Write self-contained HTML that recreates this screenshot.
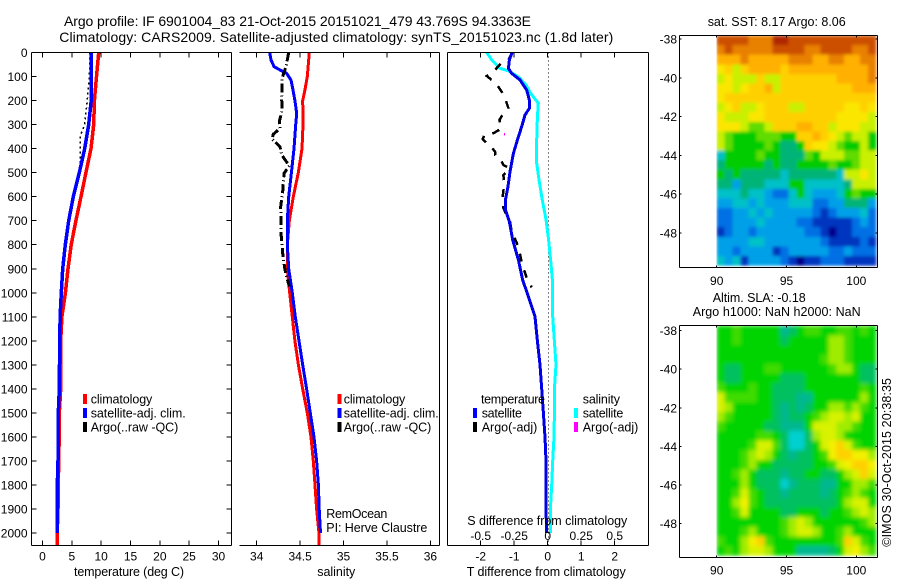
<!DOCTYPE html>
<html>
<head>
<meta charset="utf-8">
<title>Argo profile</title>
<style>
html,body{margin:0;padding:0;background:#fff;width:900px;height:580px;overflow:hidden}
svg{display:block}
text{font-family:"Liberation Sans",sans-serif;font-size:12.5px;fill:#000}
.tick{font-size:12px}
.title{font-size:14px}
</style>
</head>
<body>
<svg id="chart" xmlns="http://www.w3.org/2000/svg" width="900" height="580" viewBox="0 0 900 580">
<defs>
<filter id="sla-blur" x="0" y="0" width="1" height="1"><feGaussianBlur stdDeviation="2.2" edgeMode="duplicate"/></filter>
<filter id="sst-blur" x="0" y="0" width="1" height="1"><feGaussianBlur stdDeviation="1.5" edgeMode="duplicate"/></filter>
</defs>
<text class="title" x="64" y="26" textLength="467">Argo profile: IF 6901004_83 21-Oct-2015 20151021_479 43.769S 94.3363E</text>
<text class="title" x="59.3" y="42" textLength="554">Climatology: CARS2009. Satellite-adjusted climatology: synTS_20151023.nc (1.8d later)</text>

<g id="maps"></g>
<g id="series"></g>
<g id="axes" shape-rendering="crispEdges"></g>
<g id="ticklabels"></g>

<text x="74" y="576" textLength="110">temperature (deg C)</text>
<text x="317.3" y="576" textLength="38">salinity</text>
<text x="466.7" y="576" textLength="159">T difference from climatology</text>
<text x="467.3" y="525" textLength="160">S difference from climatology</text>

<g>
<rect x="83" y="394" width="4" height="10" fill="#ff0000"/>
<text x="90.7" y="403.5" textLength="61.6">climatology</text>
<rect x="83" y="408" width="4" height="10" fill="#0000ff"/>
<text x="90.7" y="417.5" textLength="95">satellite-adj. clim.</text>
<rect x="83" y="422" width="4" height="10" fill="#000"/>
<text x="90.7" y="431.5" textLength="87.6">Argo(..raw -QC)</text>
</g>
<g>
<rect x="337.5" y="394" width="4" height="10" fill="#ff0000"/>
<text x="343.7" y="403.5" textLength="61.6">climatology</text>
<rect x="337.5" y="408" width="4" height="10" fill="#0000ff"/>
<text x="343.7" y="417.5" textLength="95">satellite-adj. clim.</text>
<rect x="337.5" y="422" width="4" height="10" fill="#000"/>
<text x="343.7" y="431.5" textLength="87.6">Argo(..raw -QC)</text>
</g>
<text x="326.3" y="518" textLength="61">RemOcean</text>
<text x="326.3" y="532" textLength="101">PI: Herve Claustre</text>

<g>
<text x="481" y="403.5" textLength="64">temperature</text>
<rect x="473" y="408" width="4" height="10" fill="#0000ff"/>
<text x="481.7" y="417.5" textLength="40.3">satellite</text>
<rect x="473" y="422" width="4" height="10" fill="#000"/>
<text x="481.7" y="431.5" textLength="55.6">Argo(-adj)</text>
<text x="582.7" y="403.5" textLength="37.3">salinity</text>
<rect x="574" y="408" width="4" height="10" fill="#00ffff"/>
<text x="582.7" y="417.5" textLength="40.6">satellite</text>
<rect x="574" y="422" width="4" height="10" fill="#ff00ff"/>
<text x="582.7" y="431.5" textLength="55.6">Argo(-adj)</text>
</g>

<text x="707.7" y="26" textLength="138">sat. SST: 8.17 Argo: 8.06</text>
<text x="712.7" y="302" textLength="93">Altim. SLA: -0.18</text>
<text x="692.7" y="316" textLength="168">Argo h1000: NaN h2000: NaN</text>
<text transform="rotate(-90 891 546.7)" x="891" y="546.7" textLength="168.7">©IMOS 30-Oct-2015 20:38:35</text>
</svg>

<script>
// ---------- tick labels ----------
var depthTicks = [0,100,200,300,400,500,600,700,800,900,1000,1100,1200,1300,1400,1500,1600,1700,1800,1900,2000];
var tempTicks = [0,5,10,15,20,25,30];
var salTicks = [34,34.5,35,35.5,36];
var salTickLabels = ['34','34.5','35','35.5','36'];
var tDiffTicks = [-2,-1,0,1,2];
var sDiffTicks = [-0.5,-0.25,0,0.25,0.5];
var lonTicks = [90,95,100];
var latTicks = [-38,-40,-42,-44,-46,-48];

// ---------- temperature panel ----------
var tempClimDepths = [0,100,200,300,400,500,600,700,800,900,1000,1100,1200,1300,1400,1500,1600,1700,1800,1900,2000,2052];
var tempClimValues = [9.58,9.2,8.85,8.72,8.27,7.4,6.56,5.7,4.9,4.35,3.9,3.3,3.1,3.1,3.1,2.87,2.85,2.76,2.7,2.65,2.5,2.5];
var tempSatDepths = [0,100,200,300,400,500,600,700,800,900,1000,1100,1200,1300,1400,1500,1600,1700,1800,1900,2000];
var tempSatValues = [8.32,8.3,8.3,7.87,7.2,6.28,5.25,4.46,3.89,3.44,3.2,3.0,2.95,2.9,2.87,2.7,2.7,2.64,2.53,2.5,2.5];
var tempArgoDepths = [0,100,200,300,350,400,450,500,550,600,700,800,900,950];
var tempArgoValues = [8.1,8.0,7.64,7.2,6.4,6.4,6.5,6.17,5.7,5.2,4.4,3.85,3.4,3.3];

// ---------- salinity panel ----------
var salClimDepths = [0,100,155,200,300,400,500,600,700,800,900,1000,1050,1100,1200,1300,1400,1500,1600,1700,1800,1900,2000,2052];
var salClimValues = [34.606,34.583,34.556,34.53,34.533,34.522,34.479,34.421,34.375,34.352,34.352,34.38,34.395,34.41,34.44,34.48,34.53,34.583,34.625,34.652,34.671,34.69,34.717,34.72];
var salSatDepths = [0,31,59,73,87,115,156,200,253,300,400,500,600,700,800,900,1000,1100,1200,1300,1400,1500,1600,1700,1800,1900,2000];
var salSatValues = [34.15,34.165,34.2,34.268,34.345,34.395,34.418,34.44,34.46,34.449,34.43,34.4,34.368,34.352,34.352,34.368,34.41,34.445,34.487,34.53,34.575,34.617,34.66,34.69,34.71,34.72,34.735];
var salArgoDepths = [0,59,107,198,239,288,316,340,360,392,426,472,503,579,641,752,836,905,974];
var salArgoValues = [34.368,34.337,34.291,34.288,34.295,34.26,34.268,34.191,34.176,34.268,34.288,34.375,34.314,34.299,34.276,34.28,34.299,34.326,34.375];

// ---------- difference panel ----------
var dTSatDepths = [0,31,66,87,114,156,198,232,260,308,364,420,496,558,614,655,704,780,863,947,1016,1099,1200,1300,1400,1500,1600,1700,1800,1900,2000];
var dTSatValues = [-1.065,-1.144,-1.174,-1.075,-0.826,-0.627,-0.547,-0.547,-0.677,-0.776,-0.905,-1.025,-1.124,-1.184,-1.264,-1.264,-1.144,-1.045,-0.876,-0.746,-0.577,-0.378,-0.308,-0.229,-0.179,-0.129,-0.08,-0.05,-0.05,-0.05,-0.03];
var dSSatDepths = [0,31,66,76,101,135,170,211,267,364,461,530,614,697,780,863,947,1099,1300,1400,1500,1600,1700,1800,1900,2000];
var dSSatValues = [-0.455,-0.418,-0.356,-0.294,-0.219,-0.162,-0.127,-0.07,-0.077,-0.082,-0.082,-0.065,-0.04,-0.012,0.007,0.022,0.035,0.037,0.062,0.05,0.05,0.047,0.037,0.03,0.02,0.02];
var dTArgoDepths = [0,31,42,80,98,128,163,198,232,253,281,316,336,343,361,395,413,426,440,468,482,510,544,579,614,648,704,745,808,874,939,977];
var dTArgoValues = [-1.065,-1.174,-1.373,-1.622,-1.821,-1.542,-1.373,-1.254,-1.174,-1.323,-1.443,-1.373,-1.622,-1.891,-1.94,-1.672,-1.572,-1.572,-1.423,-1.323,-1.144,-1.323,-1.303,-1.323,-1.363,-1.323,-1.124,-1.075,-0.876,-0.776,-0.627,-0.478];
var dSArgoDepths = [335,345];
var dSArgoValues = [-0.323,-0.323];

// ---------- SST map (colour-level values, north to south) ----------
var sstLonStart = 90;
var sstLonStep = 0.571;
var sstLatStart = -37.82;
var sstLatStep = 0.494;
var sstValues = [
[13,13,13,13,12,12,12,14,14,13,13,13,13,13,13,13,13,13,13,13],
[12,13,12,12,12,12,12,13,13,13,13,12,12,13,13,13,13,12,12,13],
[11,11,11,12,11,11,11,11,11,12,12,12,11,11,12,12,11,11,12,12],
[9,10,8,10,11,11,11,11,10,11,11,11,11,11,11,11,11,11,11,12],
[8,9,8,8,8,10,8,8,10,10,10,10,10,10,10,11,11,11,11,12],
[9,9,8,9,10,10,11,8,10,10,10,10,10,10,10,10,10,11,11,11],
[9,10,10,10,10,10,10,10,10,10,10,10,10,10,10,10,10,10,10,10],
[8,9,10,8,8,9,10,10,10,8,8,10,10,10,10,10,9,9,10,9],
[9,8,8,8,9,9,10,10,10,10,10,10,10,10,10,9,9,9,9,8],
[9,9,9,8,7,7,8,10,10,10,11,11,10,10,8,9,9,9,8,8],
[8,7,6,6,6,7,7,7,6,6,10,10,11,10,9,8,7,8,8,6],
[8,7,6,6,6,6,7,6,5,5,6,10,9,9,8,7,6,6,8,6],
[4,6,6,6,6,7,6,6,5,5,5,7,6,8,8,8,7,7,8,8],
[5,6,6,6,6,6,5,6,5,5,6,6,6,6,7,6,6,7,8,8],
[6,5,6,5,5,5,5,5,4,5,5,5,5,5,5,4,8,8,9,8],
[5,5,3,5,5,5,4,4,4,6,6,4,4,4,4,4,5,8,8,8],
[4,4,4,5,4,4,3,2,2,4,6,4,3,3,3,4,6,7,6,6],
[3,3,4,4,3,4,3,3,3,4,4,4,2,2,3,3,5,5,5,3],
[2,2,3,3,4,3,4,3,3,3,3,3,2,1,2,3,3,3,4,2],
[2,2,3,3,3,4,3,3,3,3,2,2,1,1,1,1,1,2,3,2],
[1,2,3,3,2,3,3,3,3,3,3,2,2,1,0,1,1,2,2,2],
[3,3,3,3,4,4,3,3,3,3,3,3,3,2,1,1,1,1,2,1],
[3,3,2,3,3,3,3,1,2,3,3,3,3,3,2,2,3,2,2,2],
[4,3,4,1,3,3,3,3,2,1,0,1,1,2,2,2,1,1,1,1]
];

// ---------- SLA map (colour-level values, north to south) ----------
var slaLonStart = 90;
var slaLonStep = 0.571;
var slaLatStart = -37.74;
var slaLatStep = 0.497;
var slaValues = [
[3,3,4,3,3,3,3,3,1,2,3,4,4,3,3,4,4,3,4,3],
[3,3,4,3,3,3,3,3,2,3,3,3,3,3,5,5,4,3,3,3],
[3,3,3,3,3,3,3,3,3,3,3,3,3,3,5,5,4,3,3,3],
[3,3,3,3,3,3,3,3,3,3,3,3,3,4,5,5,4,3,3,3],
[3,2,2,3,3,3,4,4,3,3,3,3,3,3,4,5,5,3,2,2],
[3,2,2,3,3,3,3,3,2,2,2,3,3,3,3,3,3,3,2,2],
[4,3,3,3,4,3,3,2,2,2,2,3,3,3,3,3,3,3,4,3],
[6,4,4,4,4,3,3,2,2,2,1,1,3,3,3,3,3,3,5,3],
[6,5,3,3,3,3,3,2,1,2,1,2,3,3,5,5,4,5,4,3],
[5,4,3,3,3,3,3,2,1,2,2,3,4,5,6,6,5,6,3,3],
[4,3,3,3,3,3,2,2,1,1,1,3,6,6,6,5,5,4,3,3],
[3,3,3,3,3,4,4,3,2,0,0,2,5,6,6,5,3,3,3,3],
[3,3,3,3,4,6,6,4,2,0,0,2,3,6,7,8,6,4,3,3],
[3,3,3,4,5,6,5,3,2,1,2,2,3,4,7,8,8,7,7,5],
[3,3,3,4,5,3,3,2,2,2,2,2,3,3,4,6,7,8,8,7],
[3,3,4,5,3,2,2,2,1,2,2,3,3,2,2,3,5,6,8,6],
[3,3,3,5,3,2,2,2,0,1,2,2,2,1,1,3,3,5,5,4],
[3,3,4,6,4,3,2,2,1,2,2,2,2,1,2,3,4,5,4,3],
[3,3,5,7,4,3,2,2,2,2,2,2,2,2,2,3,5,6,6,3],
[3,3,4,6,3,3,3,3,2,2,3,3,3,2,3,3,4,5,6,5],
[3,3,3,3,3,3,3,3,4,5,6,5,3,3,3,3,3,3,4,5],
[3,3,3,4,5,3,3,3,4,5,6,6,5,3,3,4,5,3,3,3],
[4,3,3,5,7,8,4,3,3,3,3,3,3,3,3,4,8,6,4,3],
[3,4,3,5,6,6,5,3,3,3,1,1,1,1,2,3,6,7,5,4]
];

// ---------- axis functions ----------
function yDepth(d){return 52.5+d*0.2403;}
function xTemp(v){return 42.5+v*5.867;}
function xSal(v){return 256.7+(v-34)*86.85;}
function xTDiff(v){return 547.7+v*33.5;}
function xSDiff(v){return 547.7+v*134;}
function xLon(v){return 716.7+(v-90)*13.96;}
function yLatTop(v){return 39+(-38-v)*19.4;}
function yLatBottom(v){return 330.7+(-38-v)*19.27;}

var SVGNS = 'http://www.w3.org/2000/svg';
var gMaps = document.getElementById('maps');
var gSeries = document.getElementById('series');
var gAxes = document.getElementById('axes');
var gLabels = document.getElementById('ticklabels');

function make(tag, parent, attrs){
  var el = document.createElementNS(SVGNS, tag);
  for (var k in attrs) el.setAttribute(k, attrs[k]);
  parent.appendChild(el);
  return el;
}
function seg(x1,y1,x2,y2,name){
  var el = make('line', gAxes, {x1:x1,y1:y1,x2:x2,y2:y2,stroke:'#000','stroke-width':1});
  
  
}
function label(x,y,str,anchor,name){
  var el = make('text', gLabels, {x:x,y:y,'text-anchor':anchor,'class':'tick'});
  el.textContent = str;
  
  
}
function curve(depths, values, xf, color, width, dash, name){
  var pts = depths.map(function(d,i){return xf(values[i]).toFixed(1)+','+yDepth(d).toFixed(1);}).join(' ');
  var el = make('polyline', gSeries, {points:pts,fill:'none',stroke:color,'stroke-width':width,'shape-rendering':'crispEdges'});
  if (dash) el.setAttribute('stroke-dasharray', dash);
  
  
}

// ---------- profile panel frames ----------
var TOP = 52.5, BOT = 545.5;
function frame(left,right,xf,ticks,labels,hasLeft,hasY,name){
  seg(left,TOP,right,TOP,name+'-top-axis');
  seg(left,BOT,right,BOT,name+'-bottom-axis');
  seg(right,TOP,right,BOT,name+'-right-axis');
  if (hasLeft) seg(left,TOP,left,BOT,name+'-left-axis');
  ticks.forEach(function(t,i){
    var x = xf(t);
    seg(x,TOP,x,TOP+5,name+'-top-tick');
    seg(x,BOT,x,BOT-5,name+'-bottom-tick');
    label(x,560.5,labels[i],'middle',name+'-x-tick-label');
  });
  if (hasY) depthTicks.forEach(function(d){
    var y = yDepth(d);
    seg(left,y,left+5,y,name+'-left-tick');
    seg(right,y,right-5,y,name+'-right-tick');
    label(27.5,y+4.5,String(d),'end','depth-tick-label');
  });
}
frame(31.5,231.5,xTemp,tempTicks,tempTicks.map(String),true,true,'temperature-panel');
frame(239.5,439.5,xSal,salTicks,salTickLabels,false,false,'salinity-panel');
frame(447.5,648.5,xTDiff,tDiffTicks,tDiffTicks.map(String),true,false,'difference-panel');
sDiffTicks.forEach(function(s){
  label(xSDiff(s),540,String(s),'middle','s-difference-tick-label');
});

// ---------- zero line ----------
var zero = make('line', gSeries, {x1:548.5,y1:TOP,x2:548.5,y2:BOT,stroke:'#000','stroke-width':1,'stroke-dasharray':'1 3','shape-rendering':'crispEdges'});



// ---------- series ----------
curve(tempClimDepths,tempClimValues,xTemp,'#ff0000',3.5,null,'temperature-climatology-line');
curve(tempArgoDepths,tempArgoValues,xTemp,'#000',1.5,'2 3','temperature-argo-line');
curve(tempSatDepths,tempSatValues,xTemp,'#0000ff',3.5,null,'temperature-satellite-line');

curve(salClimDepths,salClimValues,xSal,'#ff0000',3,null,'salinity-climatology-line');
curve(salSatDepths,salSatValues,xSal,'#0000ff',3,null,'salinity-satellite-line');
curve(salArgoDepths,salArgoValues,xSal,'#000',3,'9 3 1 3','salinity-argo-line');

curve(dSSatDepths,dSSatValues,xSDiff,'#00ffff',3,null,'s-difference-satellite-line');
curve(dTArgoDepths,dTArgoValues,xTDiff,'#000',2.5,'8 9','t-difference-argo-line');
curve(dTSatDepths,dTSatValues,xTDiff,'#0000e8',3,null,'t-difference-satellite-line');
curve(dSArgoDepths,dSArgoValues,xSDiff,'#ff00ff',1,null,'s-difference-argo-line');

// ---------- maps ----------
function sstColor(v){
  return ['#00008c','#0034c0','#0070e4','#00a0e8','#00c0c8','#00b478','#00cc00','#60dc00','#c8f000','#fbe600','#ffd000','#ffb000','#e88000','#cc5000','#b02800'][v];
}
function slaColor(v){
  return ['#00d0d0','#00b890','#00c060','#00d400','#40dc00','#a0ec00','#d8f200','#f4f000','#ffd000'][v];
}
function heatmap(rows,lon0,dLon,lat0,dLat,yf,colorf,filter,name){
  var g = make('g', gMaps, {filter:filter,'shape-rendering':'crispEdges'});
  
  
  rows.forEach(function(row,r){
    row.forEach(function(v,c){
      var x0 = xLon(lon0+c*dLon), x1 = xLon(lon0+(c+1)*dLon);
      var y0 = yf(lat0-r*dLat), y1 = yf(lat0-(r+1)*dLat);
      var cell = make('rect', g, {x:x0,y:y0,width:x1-x0+0.5,height:y1-y0+0.5,fill:colorf(v)});
      
      
    });
  });
}
heatmap(sstValues,sstLonStart,sstLonStep,sstLatStart,sstLatStep,yLatTop,sstColor,'url(#sst-blur)','sst-map');
heatmap(slaValues,slaLonStart,slaLonStep,slaLatStart,slaLatStep,yLatBottom,slaColor,'url(#sla-blur)','sla-map');

function mapFrame(top,bottom,yf,labelY,name){
  var L = 679.5, R = 877.5;
  seg(L,top,R,top,name+'-top-axis');
  seg(L,bottom,R,bottom,name+'-bottom-axis');
  seg(L,top,L,bottom,name+'-left-axis');
  seg(R,top,R,bottom,name+'-right-axis');
  lonTicks.forEach(function(t){
    var x = xLon(t);
    seg(x,top,x,top+2,name+'-top-tick');
    seg(x,bottom,x,bottom-2,name+'-bottom-tick');
    label(x,labelY,String(t),'middle',name+'-lon-tick-label');
  });
  latTicks.forEach(function(t){
    var y = yf(t);
    seg(L,y,L+2,y,name+'-left-tick');
    seg(R,y,R-2,y,name+'-right-tick');
    label(677,y+4.5,String(t),'end',name+'-lat-tick-label');
  });
}
mapFrame(35.5,267.5,yLatTop,285,'sst-map');
mapFrame(325.5,557.5,yLatBottom,574.5,'sla-map');
</script>
</body>
</html>
